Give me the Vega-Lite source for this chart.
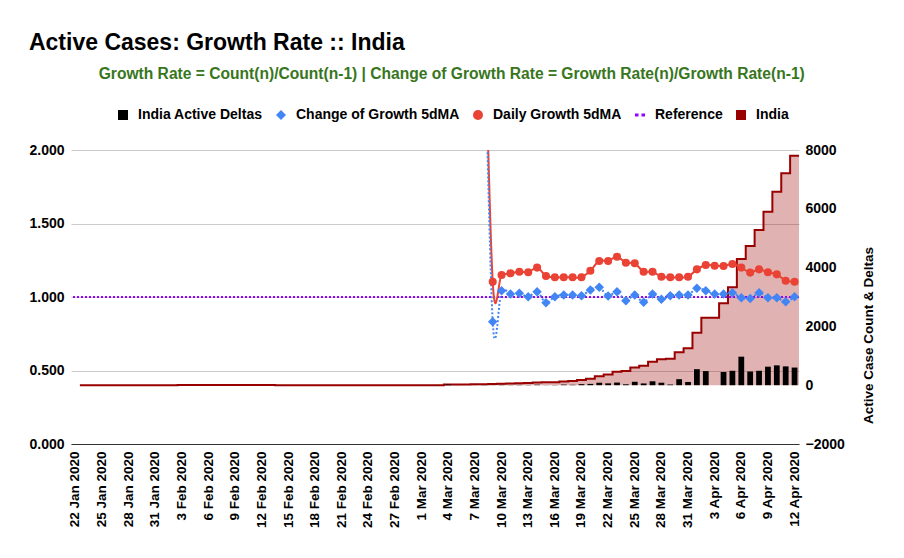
{
  "$schema": "https://vega.github.io/schema/vega-lite/v6.json",
  "background": "white",
  "padding": {"left": 28, "top": 32, "right": 10, "bottom": 5},
  "title": {"text": "Active Cases: Growth Rate :: India", "anchor": "start", "fontSize": 23, "font": "Liberation Sans", "fontWeight": "bold", "color": "#000000", "offset": 12},
  "config": {
    "font": "Liberation Sans",
    "view": {"stroke": null},
    "axis": {"labelFont": "Liberation Sans", "titleFont": "Liberation Sans"}
  },
  "datasets": {
    "t": [
      {"d": "22 Jan 2020", "a": 0, "b": 0},
      {"d": "23 Jan 2020", "a": 0, "b": 0},
      {"d": "24 Jan 2020", "a": 0, "b": 0},
      {"d": "25 Jan 2020", "a": 0, "b": 0},
      {"d": "26 Jan 2020", "a": 0, "b": 0},
      {"d": "27 Jan 2020", "a": 0, "b": 0},
      {"d": "28 Jan 2020", "a": 0, "b": 0},
      {"d": "29 Jan 2020", "a": 0, "b": 0},
      {"d": "30 Jan 2020", "a": 1, "b": 1},
      {"d": "31 Jan 2020", "a": 1, "b": 0},
      {"d": "1 Feb 2020", "a": 1, "b": 0},
      {"d": "2 Feb 2020", "a": 2, "b": 1},
      {"d": "3 Feb 2020", "a": 3, "b": 1},
      {"d": "4 Feb 2020", "a": 3, "b": 0},
      {"d": "5 Feb 2020", "a": 3, "b": 0},
      {"d": "6 Feb 2020", "a": 3, "b": 0},
      {"d": "7 Feb 2020", "a": 3, "b": 0},
      {"d": "8 Feb 2020", "a": 3, "b": 0},
      {"d": "9 Feb 2020", "a": 3, "b": 0},
      {"d": "10 Feb 2020", "a": 3, "b": 0},
      {"d": "11 Feb 2020", "a": 3, "b": 0},
      {"d": "12 Feb 2020", "a": 3, "b": 0},
      {"d": "13 Feb 2020", "a": 3, "b": 0},
      {"d": "14 Feb 2020", "a": 0, "b": -3},
      {"d": "15 Feb 2020", "a": 0, "b": 0},
      {"d": "16 Feb 2020", "a": 0, "b": 0},
      {"d": "17 Feb 2020", "a": 0, "b": 0},
      {"d": "18 Feb 2020", "a": 0, "b": 0},
      {"d": "19 Feb 2020", "a": 0, "b": 0},
      {"d": "20 Feb 2020", "a": 0, "b": 0},
      {"d": "21 Feb 2020", "a": 0, "b": 0},
      {"d": "22 Feb 2020", "a": 0, "b": 0},
      {"d": "23 Feb 2020", "a": 0, "b": 0},
      {"d": "24 Feb 2020", "a": 0, "b": 0},
      {"d": "25 Feb 2020", "a": 0, "b": 0},
      {"d": "26 Feb 2020", "a": 0, "b": 0},
      {"d": "27 Feb 2020", "a": 0, "b": 0},
      {"d": "28 Feb 2020", "a": 0, "b": 0},
      {"d": "29 Feb 2020", "a": 0, "b": 0},
      {"d": "1 Mar 2020", "a": 0, "b": 0},
      {"d": "2 Mar 2020", "a": 2, "b": 2},
      {"d": "3 Mar 2020", "a": 2, "b": 0},
      {"d": "4 Mar 2020", "a": 25, "b": 23},
      {"d": "5 Mar 2020", "a": 27, "b": 2},
      {"d": "6 Mar 2020", "a": 28, "b": 1},
      {"d": "7 Mar 2020", "a": 31, "b": 3},
      {"d": "8 Mar 2020", "a": 36, "b": 5, "g": 3.25, "c": 3.1},
      {"d": "9 Mar 2020", "a": 40, "b": 4, "g": 1.104, "c": 0.832},
      {"d": "10 Mar 2020", "a": 52, "b": 12, "g": 1.15, "c": 1.043},
      {"d": "11 Mar 2020", "a": 57, "b": 5, "g": 1.161, "c": 1.02},
      {"d": "12 Mar 2020", "a": 68, "b": 11, "g": 1.172, "c": 1.025},
      {"d": "13 Mar 2020", "a": 76, "b": 8, "g": 1.168, "c": 1.002},
      {"d": "14 Mar 2020", "a": 94, "b": 18, "g": 1.2, "c": 1.036},
      {"d": "15 Mar 2020", "a": 98, "b": 4, "g": 1.143, "c": 0.961},
      {"d": "16 Mar 2020", "a": 104, "b": 6, "g": 1.134, "c": 1.002},
      {"d": "17 Mar 2020", "a": 125, "b": 21, "g": 1.134, "c": 1.014},
      {"d": "18 Mar 2020", "a": 139, "b": 14, "g": 1.134, "c": 1.014},
      {"d": "19 Mar 2020", "a": 175, "b": 36, "g": 1.134, "c": 1.009},
      {"d": "20 Mar 2020", "a": 219, "b": 44, "g": 1.179, "c": 1.048},
      {"d": "21 Mar 2020", "a": 303, "b": 84, "g": 1.245, "c": 1.066},
      {"d": "22 Mar 2020", "a": 366, "b": 63, "g": 1.245, "c": 1.007},
      {"d": "23 Mar 2020", "a": 455, "b": 89, "g": 1.274, "c": 1.036},
      {"d": "24 Mar 2020", "a": 486, "b": 31, "g": 1.233, "c": 0.975},
      {"d": "25 Mar 2020", "a": 602, "b": 116, "g": 1.229, "c": 1.014},
      {"d": "26 Mar 2020", "a": 662, "b": 60, "g": 1.172, "c": 0.964},
      {"d": "27 Mar 2020", "a": 795, "b": 133, "g": 1.172, "c": 1.02},
      {"d": "28 Mar 2020", "a": 879, "b": 84, "g": 1.138, "c": 0.984},
      {"d": "29 Mar 2020", "a": 902, "b": 23, "g": 1.134, "c": 1.009},
      {"d": "30 Mar 2020", "a": 1118, "b": 205, "g": 1.134, "c": 1.014},
      {"d": "31 Mar 2020", "a": 1254, "b": 110, "g": 1.138, "c": 1.014},
      {"d": "1 Apr 2020", "a": 1787, "b": 545, "g": 1.188, "c": 1.059},
      {"d": "2 Apr 2020", "a": 2297, "b": 480, "g": 1.218, "c": 1.043},
      {"d": "3 Apr 2020", "a": 2297, "b": 0, "g": 1.213, "c": 1.02},
      {"d": "4 Apr 2020", "a": 2785, "b": 450, "g": 1.211, "c": 1.02},
      {"d": "5 Apr 2020", "a": 3329, "b": 490, "g": 1.224, "c": 1.029},
      {"d": "6 Apr 2020", "a": 4293, "b": 970, "g": 1.2, "c": 0.995},
      {"d": "7 Apr 2020", "a": 4735, "b": 465, "g": 1.166, "c": 0.989},
      {"d": "8 Apr 2020", "a": 5279, "b": 490, "g": 1.188, "c": 1.029},
      {"d": "9 Apr 2020", "a": 5902, "b": 630, "g": 1.168, "c": 0.995},
      {"d": "10 Apr 2020", "a": 6582, "b": 675, "g": 1.154, "c": 0.995},
      {"d": "11 Apr 2020", "a": 7206, "b": 640, "g": 1.111, "c": 0.968},
      {"d": "12 Apr 2020", "a": 7807, "b": 600, "g": 1.104, "c": 1.002}
    ]
  },
  "vconcat": [
    {
      "width": 728,
      "height": 294,
      "title": {"text": "Growth Rate = Count(n)/Count(n-1) | Change of Growth Rate = Growth Rate(n)/Growth Rate(n-1)", "anchor": "middle", "frame": "bounds", "fontSize": 15.6, "font": "Liberation Sans", "fontWeight": "bold", "color": "#38761d", "offset": 60},
      "data": {"name": "t"},
      "layer": [
        {
          "layer": [
            {
              "mark": {"type": "area", "interpolate": "step-before", "fillOpacity": 0.3, "line": {"strokeWidth": 2}},
              "encoding": {
                "x": {
                  "field": "d", "type": "ordinal", "bandPosition": 1,
                  "scale": {"type": "band", "paddingInner": 0, "paddingOuter": 0, "domain": ["22 Jan 2020","23 Jan 2020","24 Jan 2020","25 Jan 2020","26 Jan 2020","27 Jan 2020","28 Jan 2020","29 Jan 2020","30 Jan 2020","31 Jan 2020","1 Feb 2020","2 Feb 2020","3 Feb 2020","4 Feb 2020","5 Feb 2020","6 Feb 2020","7 Feb 2020","8 Feb 2020","9 Feb 2020","10 Feb 2020","11 Feb 2020","12 Feb 2020","13 Feb 2020","14 Feb 2020","15 Feb 2020","16 Feb 2020","17 Feb 2020","18 Feb 2020","19 Feb 2020","20 Feb 2020","21 Feb 2020","22 Feb 2020","23 Feb 2020","24 Feb 2020","25 Feb 2020","26 Feb 2020","27 Feb 2020","28 Feb 2020","29 Feb 2020","1 Mar 2020","2 Mar 2020","3 Mar 2020","4 Mar 2020","5 Mar 2020","6 Mar 2020","7 Mar 2020","8 Mar 2020","9 Mar 2020","10 Mar 2020","11 Mar 2020","12 Mar 2020","13 Mar 2020","14 Mar 2020","15 Mar 2020","16 Mar 2020","17 Mar 2020","18 Mar 2020","19 Mar 2020","20 Mar 2020","21 Mar 2020","22 Mar 2020","23 Mar 2020","24 Mar 2020","25 Mar 2020","26 Mar 2020","27 Mar 2020","28 Mar 2020","29 Mar 2020","30 Mar 2020","31 Mar 2020","1 Apr 2020","2 Apr 2020","3 Apr 2020","4 Apr 2020","5 Apr 2020","6 Apr 2020","7 Apr 2020","8 Apr 2020","9 Apr 2020","10 Apr 2020","11 Apr 2020","12 Apr 2020"]},
                  "axis": {
                    "title": null, "labelAngle": 270, "labelFontSize": 13.5, "labelFontWeight": "bold", "labelColor": "#000000",
                    "ticks": false, "tickSize": 0, "labelPadding": 7, "domainColor": "#333333", "grid": false,
                    "labelOverlap": false, "labelBound": false, "labelFlush": false,
                    "labelExpr": "indexof(['22 Jan 2020','25 Jan 2020','28 Jan 2020','31 Jan 2020','3 Feb 2020','6 Feb 2020','9 Feb 2020','12 Feb 2020','15 Feb 2020','18 Feb 2020','21 Feb 2020','24 Feb 2020','27 Feb 2020','1 Mar 2020','4 Mar 2020','7 Mar 2020','10 Mar 2020','13 Mar 2020','16 Mar 2020','19 Mar 2020','22 Mar 2020','25 Mar 2020','28 Mar 2020','31 Mar 2020','3 Apr 2020','6 Apr 2020','9 Apr 2020','12 Apr 2020'], datum.value) >= 0 ? datum.value : ''"
                  }
                },
                "y": {
                  "field": "a", "type": "quantitative",
                  "scale": {"domain": [-2000, 8000], "nice": false, "zero": false},
                  "axis": {
                    "orient": "right", "values": [-2000, 0, 2000, 4000, 6000, 8000], "format": "d",
                    "title": "Active Case Count & Deltas", "grid": false, "domain": false, "ticks": false, "tickSize": 0,
                    "labelPadding": 6, "labelFontSize": 14, "labelFontWeight": "bold", "labelColor": "#000000",
                    "titleAngle": 270, "titleX": 69, "titleY": 185, "titleFontSize": 13.5, "titleFontWeight": "bold",
                    "titleColor": "#000000", "titleAlign": "center", "titleBaseline": "middle"
                  }
                },
                "color": {
                  "datum": "India",
                  "scale": {
                    "domain": ["India Active Deltas", "Change of Growth 5dMA", "Daily Growth 5dMA", "Reference", "India"],
                    "range": ["#000000", "#4285f4", "#ea4335", "#9900ff", "#990000"]
                  },
                  "legend": {
                    "orient": "none", "legendX": 45, "legendY": -42, "direction": "horizontal", "title": null,
                    "labelFontSize": 14, "labelFontWeight": "bold", "labelColor": "#000000", "labelFont": "Liberation Sans",
                    "labelLimit": 400, "symbolSize": 100, "columnPadding": 11, "labelOffset": 8,
                    "encode": {
                      "symbols": {
                        "update": {
                          "shape": {"signal": "datum.value === 'Change of Growth 5dMA' ? 'diamond' : datum.value === 'Daily Growth 5dMA' ? 'circle' : datum.value === 'Reference' ? 'M-1,-0.3H-0.3V0.3H-1Z M0.3,-0.3H1V0.3H0.3Z' : 'square'"},
                          "fill": {"signal": "datum.value === 'India Active Deltas' ? '#000000' : datum.value === 'Change of Growth 5dMA' ? '#4285f4' : datum.value === 'Daily Growth 5dMA' ? '#ea4335' : datum.value === 'Reference' ? '#9900ff' : '#990000'"},
                          "stroke": {"value": "transparent"},
                          "strokeWidth": {"value": 0},
                          "opacity": {"value": 1},
                          "fillOpacity": {"value": 1}
                        }
                      }
                    }
                  }
                }
              }
            },
            {
              "mark": {"type": "bar", "width": {"band": 0.65}},
              "encoding": {
                "x": {"field": "d", "type": "ordinal"},
                "y": {"field": "b", "type": "quantitative"},
                "color": {"datum": "India Active Deltas"}
              }
            }
          ]
        },
        {
          "layer": [
            {
              "data": {"values": [{}]},
              "mark": {"type": "rule", "strokeDash": [2, 2], "strokeWidth": 2},
              "encoding": {
                "y": {
                  "datum": 1, "type": "quantitative",
                  "scale": {"domain": [0, 2], "nice": false},
                  "axis": {
                    "orient": "left", "values": [0, 0.5, 1, 1.5, 2], "format": ".3f", "title": null,
                    "domain": false, "ticks": false, "tickSize": 0, "labelPadding": 7,
                    "labelFontSize": 14, "labelFontWeight": "bold", "labelColor": "#000000",
                    "grid": true, "gridColor": "#cccccc", "gridWidth": 1
                  }
                },
                "color": {"datum": "Reference"}
              }
            },
            {
              "mark": {"type": "line", "interpolate": "cardinal", "strokeWidth": 2, "clip": true},
              "encoding": {
                "x": {"field": "d", "type": "ordinal", "bandPosition": 0.5},
                "y": {"field": "g", "type": "quantitative"},
                "color": {"datum": "Daily Growth 5dMA"}
              }
            },
            {
              "mark": {"type": "line", "interpolate": "cardinal", "strokeWidth": 2, "strokeDash": [2, 2], "clip": true},
              "encoding": {
                "x": {"field": "d", "type": "ordinal", "bandPosition": 0.5},
                "y": {"field": "c", "type": "quantitative"},
                "color": {"datum": "Change of Growth 5dMA"}
              }
            },
            {
              "mark": {"type": "point", "filled": true, "shape": "circle", "size": 65, "opacity": 1, "clip": true},
              "encoding": {
                "x": {"field": "d", "type": "ordinal", "bandPosition": 0.5},
                "y": {"field": "g", "type": "quantitative"},
                "color": {"datum": "Daily Growth 5dMA"}
              }
            },
            {
              "mark": {"type": "point", "filled": true, "shape": "diamond", "size": 90, "opacity": 1, "clip": true},
              "encoding": {
                "x": {"field": "d", "type": "ordinal", "bandPosition": 0.5},
                "y": {"field": "c", "type": "quantitative"},
                "color": {"datum": "Change of Growth 5dMA"}
              }
            }
          ]
        }
      ],
      "resolve": {"scale": {"y": "independent"}}
    }
  ]
}
